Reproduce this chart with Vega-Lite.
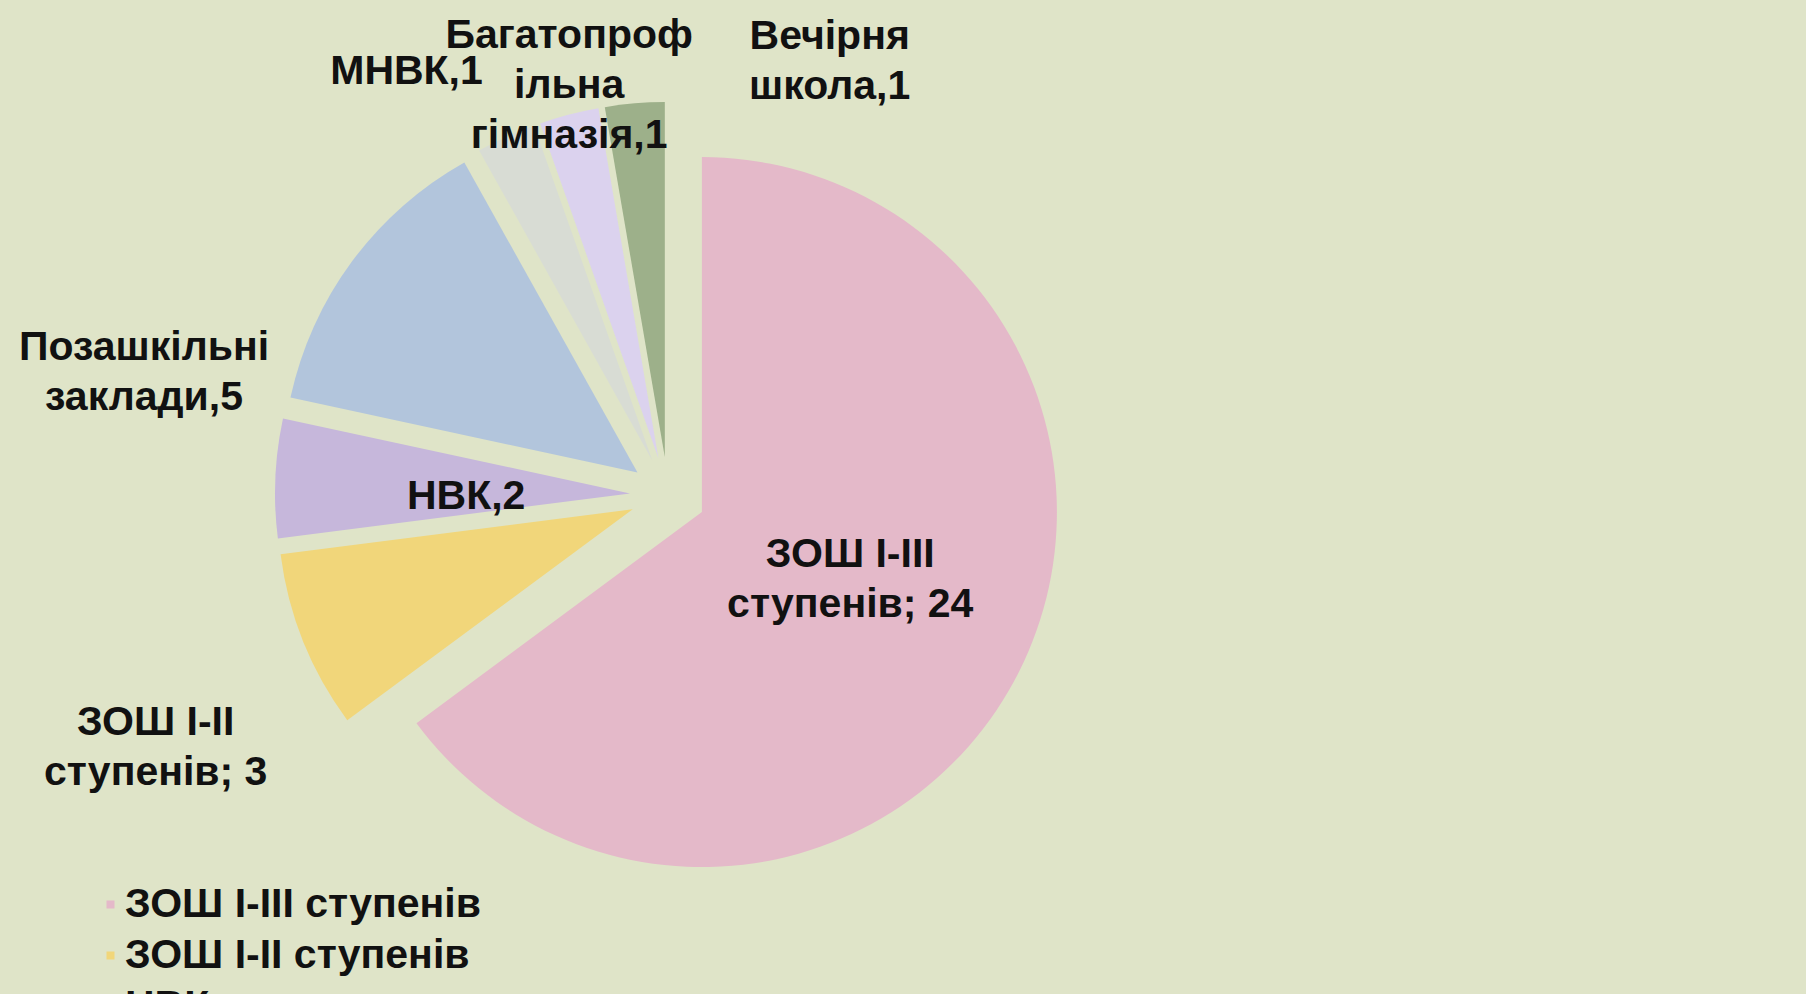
{
  "$schema": "https://vega.github.io/schema/vega-lite/v6.json",
  "width": 1336,
  "height": 990,
  "autosize": {"type": "none"},
  "padding": {"left": 0, "top": 0, "right": 470, "bottom": 4},
  "background": "#dfe4c8",
  "config": {
    "view": {"stroke": null},
    "text": {"font": "Liberation Sans", "fontWeight": "bold", "fontSize": 41, "color": "#111111", "lineBreak": "\n", "lineHeight": 50, "align": "center", "baseline": "middle"}
  },
  "data": {
    "values": [
      {"cat": "ЗОШ I-III ступенів", "n": 24, "label": "ЗОШ I-III\nступенів; 24"},
      {"cat": "ЗОШ I-II ступенів", "n": 3, "label": "ЗОШ I-II\nступенів; 3"},
      {"cat": "НВК", "n": 2, "label": "НВК,2"},
      {"cat": "Позашкільні заклади", "n": 5, "label": "Позашкільні\nзаклади,5"},
      {"cat": "МНВК", "n": 1, "label": "МНВК,1"},
      {"cat": "Багатопрофільна гімназія", "n": 1, "label": "Багатопроф\nільна\nгімназія,1"},
      {"cat": "Вечірня школа", "n": 1, "label": "Вечірня\nшкола,1"}
    ]
  },
  "transform": [
    {"window": [{"op": "row_number", "as": "idx"}]},
    {"stack": "n", "groupby": [], "sort": [{"field": "idx", "order": "ascending"}], "as": ["s0", "s1"]}
  ],
  "layer": [
    {
      "transform": [{"filter": "datum.cat === 'ЗОШ I-III ступенів'"}],
      "mark": {"type": "arc", "outerRadius": 355, "xOffset": 33.9, "yOffset": 17.1},
      "encoding": {
        "theta": {"field": "s0", "type": "quantitative", "stack": null},
        "theta2": {"field": "s1"},
        "color": {
          "field": "cat", "type": "nominal",
          "scale": {
            "domain": ["ЗОШ I-III ступенів", "ЗОШ I-II ступенів", "НВК", "Позашкільні заклади", "МНВК", "Багатопрофільна гімназія", "Вечірня школа"],
            "range": ["#e4b9c9", "#f1d67a", "#c6b7db", "#b2c5dc", "#d8dcd4", "#dbd2ee", "#9db08a"]
          },
          "legend": {
            "orient": "none", "legendX": 90, "legendY": 884, "direction": "vertical",
            "title": null, "symbolType": "square", "symbolSize": 64,
            "labelFont": "Liberation Sans", "labelFontWeight": "bold", "labelFontSize": 41,
            "labelColor": "#111111", "labelOffset": -6, "rowPadding": 9, "labelLimit": 0
          }
        }
      }
    },
    {
      "transform": [{"filter": "datum.cat === 'ЗОШ I-II ступенів'"}],
      "mark": {"type": "arc", "outerRadius": 355, "xOffset": -35.3, "yOffset": 14.2},
      "encoding": {
        "theta": {"field": "s0", "type": "quantitative", "stack": null},
        "theta2": {"field": "s1"},
        "color": {"field": "cat", "type": "nominal"}
      }
    },
    {
      "transform": [{"filter": "datum.cat === 'НВК'"}],
      "mark": {"type": "arc", "outerRadius": 355, "xOffset": -38.0, "yOffset": -1.6},
      "encoding": {
        "theta": {"field": "s0", "type": "quantitative", "stack": null},
        "theta2": {"field": "s1"},
        "color": {"field": "cat", "type": "nominal"}
      }
    },
    {
      "transform": [{"filter": "datum.cat === 'Позашкільні заклади'"}],
      "mark": {"type": "arc", "outerRadius": 355, "xOffset": -30.5, "yOffset": -22.6},
      "encoding": {
        "theta": {"field": "s0", "type": "quantitative", "stack": null},
        "theta2": {"field": "s1"},
        "color": {"field": "cat", "type": "nominal"}
      }
    },
    {
      "transform": [{"filter": "datum.cat === 'МНВК'"}],
      "mark": {"type": "arc", "outerRadius": 355, "xOffset": -15.7, "yOffset": -34.6},
      "encoding": {
        "theta": {"field": "s0", "type": "quantitative", "stack": null},
        "theta2": {"field": "s1"},
        "color": {"field": "cat", "type": "nominal"}
      }
    },
    {
      "transform": [{"filter": "datum.cat === 'Багатопрофільна гімназія'"}],
      "mark": {"type": "arc", "outerRadius": 355, "xOffset": -9.6, "yOffset": -36.8},
      "encoding": {
        "theta": {"field": "s0", "type": "quantitative", "stack": null},
        "theta2": {"field": "s1"},
        "color": {"field": "cat", "type": "nominal"}
      }
    },
    {
      "transform": [{"filter": "datum.cat === 'Вечірня школа'"}],
      "mark": {"type": "arc", "outerRadius": 355, "xOffset": -3.2, "yOffset": -37.9},
      "encoding": {
        "theta": {"field": "s0", "type": "quantitative", "stack": null},
        "theta2": {"field": "s1"},
        "color": {"field": "cat", "type": "nominal"}
      }
    },
    {
      "mark": {"type": "text", "radius": 203, "dx": 1, "dy": -31},
      "encoding": {
        "theta": {"field": "n", "type": "quantitative", "stack": true},
        "order": {"field": "idx", "type": "quantitative"},
        "text": {"condition": {"test": "datum.cat === 'ЗОШ I-III ступенів'", "field": "label", "type": "nominal"}, "value": ""}
      }
    },
    {
      "mark": {"type": "text", "radius": 203, "dx": 1, "dy": 11},
      "encoding": {
        "theta": {"field": "n", "type": "quantitative", "stack": true},
        "order": {"field": "idx", "type": "quantitative"},
        "text": {"condition": {"test": "datum.cat === 'НВК'", "field": "label", "type": "nominal"}, "value": ""}
      }
    },
    {
      "mark": {"type": "text", "radius": 550, "dx": -2, "dy": 23},
      "encoding": {
        "theta": {"field": "n", "type": "quantitative", "stack": true},
        "order": {"field": "idx", "type": "quantitative"},
        "text": {"condition": {"test": "datum.cat === 'ЗОШ I-II ступенів'", "field": "label", "type": "nominal"}, "value": ""}
      }
    },
    {
      "mark": {"type": "text", "radius": 500, "dx": -122, "dy": 150},
      "encoding": {
        "theta": {"field": "n", "type": "quantitative", "stack": true},
        "order": {"field": "idx", "type": "quantitative"},
        "text": {"condition": {"test": "datum.cat === 'Позашкільні заклади'", "field": "label", "type": "nominal"}, "value": ""}
      }
    },
    {
      "mark": {"type": "text", "radius": 460, "dx": -72, "dy": -4},
      "encoding": {
        "theta": {"field": "n", "type": "quantitative", "stack": true},
        "order": {"field": "idx", "type": "quantitative"},
        "text": {"condition": {"test": "datum.cat === 'МНВК'", "field": "label", "type": "nominal"}, "value": ""}
      }
    },
    {
      "mark": {"type": "text", "radius": 420, "dx": 7, "dy": -53},
      "encoding": {
        "theta": {"field": "n", "type": "quantitative", "stack": true},
        "order": {"field": "idx", "type": "quantitative"},
        "text": {"condition": {"test": "datum.cat === 'Багатопрофільна гімназія'", "field": "label", "type": "nominal"}, "value": ""}
      }
    },
    {
      "mark": {"type": "text", "radius": 440, "dx": 199, "dy": -20},
      "encoding": {
        "theta": {"field": "n", "type": "quantitative", "stack": true},
        "order": {"field": "idx", "type": "quantitative"},
        "text": {"condition": {"test": "datum.cat === 'Вечірня школа'", "field": "label", "type": "nominal"}, "value": ""}
      }
    }
  ]
}
